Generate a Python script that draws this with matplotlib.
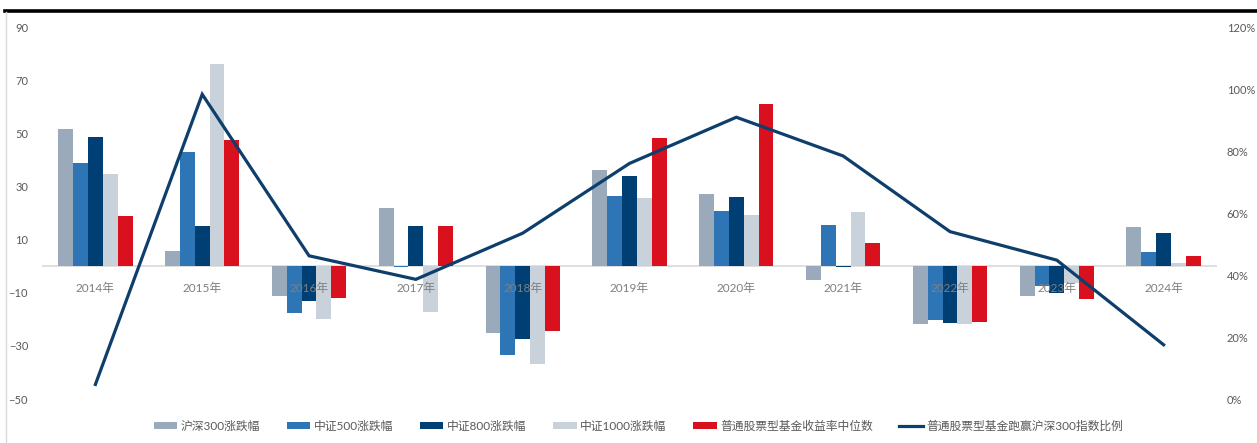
import numpy as np
import matplotlib.pyplot as plt
from matplotlib.lines import Line2D
from matplotlib.ticker import FuncFormatter

plt.rcParams['font.family'] = ['Lato', 'Noto Sans CJK SC', 'DejaVu Sans']

years = ['2014年', '2015年', '2016年', '2017年', '2018年', '2019年',
         '2020年', '2021年', '2022年', '2023年', '2024年']

# annual index returns (%)
hs300 = [51.7, 5.6, -11.3, 21.8, -25.3, 36.1, 27.2, -5.2, -21.6, -11.4, 14.7]
zz500 = [39.0, 43.1, -17.8, -0.2, -33.3, 26.4, 20.9, 15.6, -20.1, -7.4, 5.5]
zz800 = [48.5, 15.0, -13.1, 15.3, -27.5, 33.9, 26.0, -0.4, -21.4, -10.1, 12.4]
zz1000 = [34.6, 76.2, -20.0, -17.3, -36.9, 25.6, 19.4, 20.5, -21.6, -6.3, 1.2]
fund_median = [18.7, 47.6, -11.9, 15.3, -24.3, 48.4, 60.9, 8.6, -20.9, -12.4, 4.0]

# share of equity funds beating the CSI 300 (right axis)
beat_ratio = [0.047, 0.983, 0.462, 0.386, 0.535, 0.760, 0.909, 0.784, 0.540, 0.448, 0.175]

bar_series = [
    ('沪深300涨跌幅', hs300, '#9AAABA'),
    ('中证500涨跌幅', zz500, '#2E75B6'),
    ('中证800涨跌幅', zz800, '#003F73'),
    ('中证1000涨跌幅', zz1000, '#C9D1DB'),
    ('普通股票型基金收益率中位数', fund_median, '#D9101E'),
]

fig = plt.figure(figsize=(12.57, 4.43), dpi=100)
ax = fig.add_axes([0.0334, 0.0993, 0.9348, 0.8397])
ax2 = ax.twinx()

x = np.arange(len(years))
w = 0.139
handles = []
for k, (name, vals, col) in enumerate(bar_series):
    b = ax.bar(x + (k - 2) * w, vals, width=w, color=col, label=name, zorder=2)
    handles.append(b)

ax.axhline(0, color='#D9D9D9', lw=1.2, zorder=1)

ax.set_xlim(-0.5, len(years) - 0.5)
ax.set_ylim(-50, 90)
ax.set_yticks(np.arange(-50, 91, 20))
ax.set_xticks([])
for i, lab in enumerate(years):
    ax.annotate(lab, (i, 0), xytext=(0, -16), textcoords='offset points',
                ha='center', va='center', fontsize=8.5, color='#7F7F7F', zorder=5)

line, = ax2.plot(x, beat_ratio, color='#0D3E6C', lw=2.3, solid_joinstyle='miter',
                 label='普通股票型基金跑赢沪深300指数比例')
ax2.set_ylim(0, 1.2)
ax2.set_yticks(np.arange(0, 1.21, 0.2))
ax2.yaxis.set_major_formatter(FuncFormatter(lambda v, p: f'{v * 100:.0f}%'))

for a in (ax, ax2):
    for s in a.spines.values():
        s.set_visible(False)
    a.tick_params(length=0, labelsize=8, labelcolor='#595959')
ax.tick_params(axis='y', pad=10)
ax2.tick_params(axis='y', pad=7)

handles.append(line)
fig.legend(handles=handles, labels=[h.get_label() for h in handles],
           loc='center', bbox_to_anchor=(0.508, 0.038), ncol=6, frameon=False,
           fontsize=8.5, labelcolor='#595959', handlelength=2.0, handleheight=0.6,
           handletextpad=0.3, columnspacing=2.25)

# header rule and chart border
fig.add_artist(Line2D([0.004, 1.0], [0.975, 0.975], color='black', lw=2.6))
fig.add_artist(Line2D([0.0045, 0.0045], [0.0, 0.972], color='#D9D9D9', lw=1.0))

fig.savefig('out.png', dpi=100)
